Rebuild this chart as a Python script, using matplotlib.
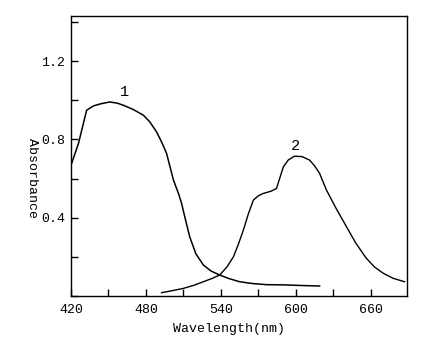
import matplotlib
matplotlib.use("Agg")
import matplotlib.pyplot as plt
from matplotlib.ticker import MultipleLocator

# curve 1
wl_1 = [420.5, 426, 432.5, 438, 444, 451, 457, 462, 470, 478, 483, 488.5, 493, 496.5,
        502, 506, 508.5, 512, 515, 520, 526, 532, 539, 547, 555, 565, 576.5, 590, 603, 619]
abs_1 = [0.677, 0.78, 0.949, 0.971, 0.982, 0.991, 0.985, 0.974, 0.952, 0.923, 0.89, 0.838,
         0.78, 0.728, 0.592, 0.524, 0.473, 0.38, 0.303, 0.215, 0.158, 0.128, 0.107, 0.088,
         0.073, 0.064, 0.058, 0.057, 0.054, 0.051]

# curve 2
wl_2 = [492.5, 500, 510, 518, 526, 533, 539, 545, 550, 554, 558, 562, 566, 570, 574,
        580, 584.5, 587, 590, 594, 599, 605, 611, 615, 619, 624.5, 632, 640.5, 648,
        656.5, 663, 670, 678, 687]
abs_2 = [0.017, 0.026, 0.039, 0.054, 0.073, 0.09, 0.107, 0.15, 0.2, 0.265, 0.337, 0.42,
         0.49, 0.512, 0.524, 0.535, 0.549, 0.6, 0.66, 0.695, 0.714, 0.712, 0.694, 0.665,
         0.626, 0.541, 0.45, 0.354, 0.27, 0.192, 0.148, 0.116, 0.09, 0.073]

FONT = "Liberation Mono"

fig = plt.figure(figsize=(4.32, 3.54), dpi=100)
ax = fig.add_axes([0.1644, 0.1638, 0.7778, 0.791])

ax.plot(wl_1, abs_1, color="black", lw=1.1)
ax.plot(wl_2, abs_2, color="black", lw=1.0)

ax.text(463, 1.04, "1", fontsize=11, family=FONT, ha="center", va="center")
ax.text(600, 0.765, "2", fontsize=11, family=FONT, ha="center", va="center")

ax.set_xlim(420, 689)
ax.set_ylim(0, 1.43)
ax.set_xticks([420, 480, 540, 600, 660])
ax.set_yticks([0.4, 0.8, 1.2])
ax.xaxis.set_minor_locator(MultipleLocator(30))
ax.yaxis.set_minor_locator(MultipleLocator(0.2))
ax.tick_params(which="both", direction="in", length=5, width=1, color="black",
               labelsize=9.5)
ax.tick_params(axis="x", pad=6)
ax.tick_params(axis="y", pad=4)
for lab in ax.get_xticklabels() + ax.get_yticklabels():
    lab.set_family(FONT)

ax.set_xlabel("Wavelength(nm)", family=FONT, fontsize=9.5)
ax.xaxis.set_label_coords(0.47, -0.095)
ax.set_ylabel("Absorbance", family=FONT, fontsize=9.5, rotation=270,
              va="center", ha="center")
ax.yaxis.set_label_coords(-0.116, 0.42)

for sp in ax.spines.values():
    sp.set_linewidth(1.0)

fig.savefig("out.png", dpi=100)
